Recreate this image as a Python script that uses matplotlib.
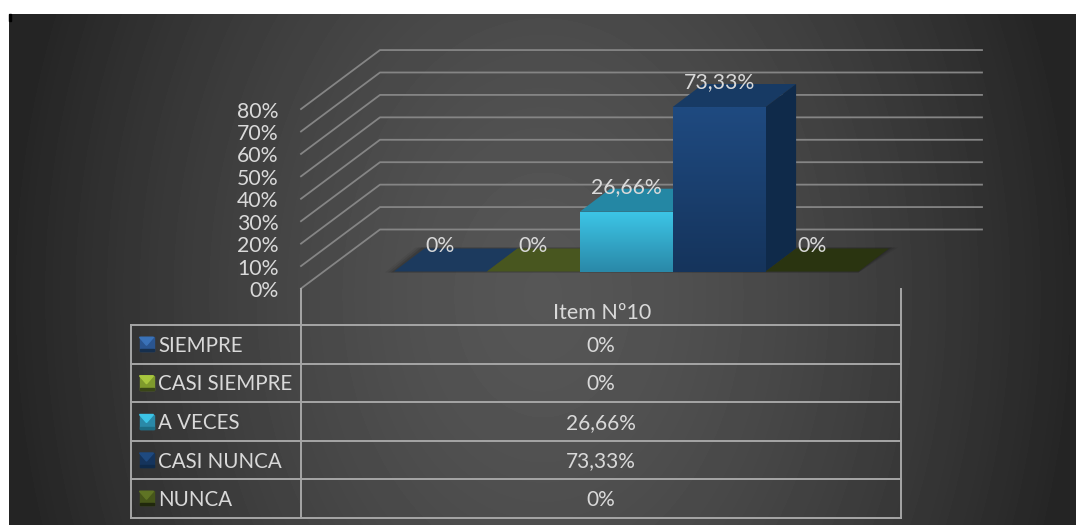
import numpy as np
import matplotlib
matplotlib.use('Agg')
import matplotlib.pyplot as plt
from matplotlib.patches import Polygon, Rectangle
from matplotlib.colors import LinearSegmentedColormap

plt.rcParams['font.family'] = ['Lato', 'DejaVu Sans']

categories = ['SIEMPRE', 'CASI SIEMPRE', 'A VECES', 'CASI NUNCA', 'NUNCA']
values = [0, 0, 26.66, 73.33, 0]
value_labels = ['0%', '0%', '26,66%', '73,33%', '0%']
y_ticks = [0, 10, 20, 30, 40, 50, 60, 70, 80]
column_label = 'Item Nº10'

front_top = ['#3a72b8', '#a8c63e', '#3cc4e6', '#1f4a80', '#5f7424']
front_bottom = ['#2a5590', '#7f9a2c', '#2a89a8', '#15345c', '#46561a']
top_colors = ['#1c3a5e', '#48561f', '#2487a4', '#173a64', '#2a3410']
side_colors = ['#162f4d', '#394517', '#1d6c84', '#0f2a4a', '#20280c']

W, H = 1076, 525
PX_PER_PCT = 2.243
BASE_Y = 271.5
X0, CAT_W = 394.0, 92.9
BAR_DX, BAR_DY = 30.5, 23
TEXT = '#d9d9d9'

fig = plt.figure(figsize=(W / 100, H / 100), dpi=100, facecolor='white')

# pixel axes for the backdrop, walls and table
bg = fig.add_axes([0, 0, 1, 1])
bg.set_xlim(0, W)
bg.set_ylim(H, 0)
bg.axis('off')

xs = np.arange(W - 9) / (W - 9)
ys = np.linspace(0, 1, H - 14)
xx, yy = np.meshgrid(xs, ys)
r = np.sqrt(((xx - 0.5) / 0.5) ** 2 + 0.12 * ((yy - 0.55) / 0.5) ** 2)
shade = 0x56 - (0x56 - 0x25) * np.clip(r, 0, 1) ** 1.5
bg.imshow(shade, extent=(9, W, H, 14), cmap='gray', vmin=0, vmax=255, aspect='auto', zorder=0)
bg.set_xlim(0, W)
bg.set_ylim(H, 0)
bg.add_patch(Rectangle((9, 14), 1.5, 7, color='black', zorder=1))

GRID = '#858585'
WALL_X0, WALL_X1, WALL_END = 301, 380, 982
for t in y_ticks:
    back_y = 229.5 - t * PX_PER_PCT
    front_y = 288.5 - t * PX_PER_PCT
    bg.plot([WALL_X0, WALL_X1, WALL_END], [front_y, back_y, back_y], color=GRID, lw=1.3, zorder=2)
    bg.text(278.5, front_y + 2.5, f'{t}%', ha='right', va='center', color=TEXT, fontsize=15.3, zorder=6)

# table
TABLE = '#a6a6a6'
row_y = [325, 363.5, 402, 441, 479, 517.5]
TL, TM, TR = 131, 301, 901
for y in row_y:
    bg.plot([TL, TR], [y, y], color=TABLE, lw=1.4, zorder=2)
bg.plot([TL, TL], [row_y[0], row_y[-1]], color=TABLE, lw=1.4, zorder=2)
for x in (TM, TR):
    bg.plot([x, x], [289, row_y[-1]], color=TABLE, lw=1.4, zorder=2)
bg.text(602, 313, column_label, ha='center', va='center', color=TEXT, fontsize=15.5, zorder=6)

for i, cat in enumerate(categories):
    cy = (row_y[i] + row_y[i + 1]) / 2
    x0, x1, y0, y1 = 139.5, 153.5, cy - 7, cy + 7
    mx = (x0 + x1) / 2
    bg.add_patch(Rectangle((x0, y0), x1 - x0, y1 - y0, color=front_bottom[i], zorder=3))
    bg.add_patch(Polygon([(x0, y0), (x1, y0), (mx, cy + 1)], color=front_top[i], zorder=4))
    bg.add_patch(Rectangle((x0, y1 - 2), x1 - x0, 2, color=side_colors[i], zorder=4))
    bg.text(158.5, cy + 1.5, cat, ha='left', va='center', color=TEXT, fontsize=14.8, zorder=6)
    bg.text(601, cy + 1.5, value_labels[i], ha='center', va='center', color=TEXT, fontsize=15, zorder=6)

# floor shadow behind the flat bars
end_x = X0 + CAT_W * len(categories)
for k, a in zip((9, 6, 3), (0.06, 0.09, 0.12)):
    bg.add_patch(Polygon([(X0 - k, BASE_Y + 1), (end_x, BASE_Y + 1),
                          (end_x + BAR_DX + k, BASE_Y - BAR_DY - 1), (X0 + BAR_DX - k, BASE_Y - BAR_DY - 1)],
                         color='black', alpha=a, lw=0, zorder=3))

# bars axes: x in category units, y in percent
ax = fig.add_axes([0, 0, 1, 1], facecolor='none')
ax.axis('off')

dx = BAR_DX / CAT_W
dy = BAR_DY / PX_PER_PCT
for i, v in enumerate(values):
    ax.add_patch(Polygon([(i, v), (i + 1, v), (i + 1 + dx, v + dy), (i + dx, v + dy)],
                         color=top_colors[i], lw=0, zorder=5 + i))
    if v > 0:
        ax.add_patch(Polygon([(i + 1, 0), (i + 1 + dx, dy), (i + 1 + dx, v + dy), (i + 1, v)],
                             color=side_colors[i], lw=0, zorder=5 + i))
        cmap = LinearSegmentedColormap.from_list('f', [front_bottom[i], front_top[i]])
        ax.imshow(np.linspace(0, 1, 64)[:, None], extent=(i, i + 1, 0, v), origin='lower', cmap=cmap,
                  aspect='auto', zorder=5.5 + i)
ax.set_xlim(-X0 / CAT_W, (W - X0) / CAT_W)
ax.set_ylim(-(H - BASE_Y) / PX_PER_PCT, BASE_Y / PX_PER_PCT)

for i, (v, lab) in enumerate(zip(values, value_labels)):
    ax.text(i + 0.5, v + dy + 0.9, lab, ha='center', va='center', color=TEXT, fontsize=15.3, zorder=20)

fig.savefig('out.png', dpi=100, facecolor='white')
